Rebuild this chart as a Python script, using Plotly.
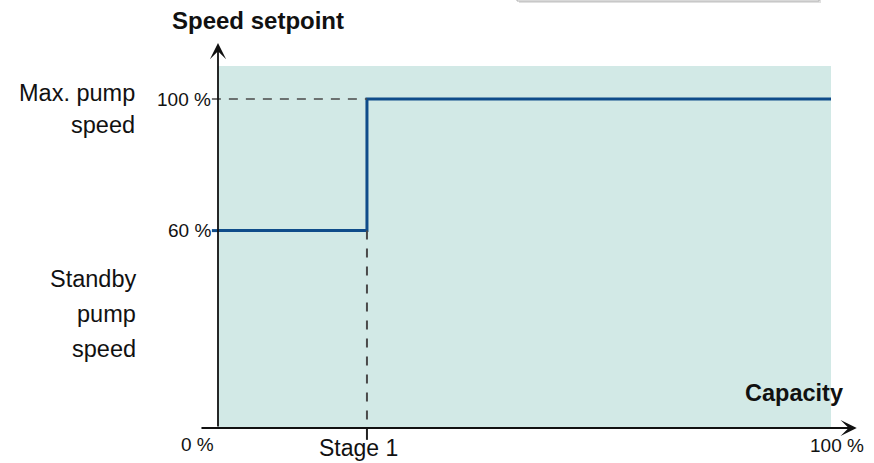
import plotly.graph_objects as go

# ---- data ----
capacity_pct = [0, 24.3, 100]          # capacity breakpoints (%)
speed_pct = [60, 100, 100]             # speed setpoint at each breakpoint (%)
stage_capacity = 24.3                  # Stage 1 position on capacity axis
standby_speed = 60
max_speed = 100
shade_top = 110
y_tick_labels = ["100 %", "60 %"]
x_tick_labels = ["0 %", "Stage 1", "100 %"]

W, H = 874, 463
FONT = "Liberation Sans, Arial, sans-serif"
LINE_BLUE = "#0f4c8a"
SHADE = "#d2e9e6"
DASH_COL = "#4a4a4a"

def px(x):
    return x / W

def py(y):
    return 1 - y / H

fig = go.Figure()

# step line
fig.add_trace(go.Scatter(
    x=capacity_pct, y=speed_pct, mode="lines", line_shape="hv",
    line=dict(color=LINE_BLUE, width=3), hoverinfo="skip", showlegend=False,
))

shapes = []
# shaded operating region
shapes.append(dict(type="rect", xref="x", yref="y", x0=0, x1=100, y0=0, y1=shade_top,
                   fillcolor=SHADE, line=dict(width=0), layer="below"))
# dashed reference at max speed
shapes.append(dict(type="line", xref="x", yref="y", x0=-1, x1=stage_capacity,
                   y0=max_speed, y1=max_speed,
                   line=dict(color=DASH_COL, width=1.5, dash="9px,8px")))
# dashed stage line
shapes.append(dict(type="line", xref="x", yref="y", x0=stage_capacity, x1=stage_capacity,
                   y0=standby_speed, y1=0,
                   line=dict(color=DASH_COL, width=2, dash="9px,9px")))
# stage tick below axis
shapes.append(dict(type="line", xref="x", yref="y", x0=stage_capacity, x1=stage_capacity,
                   y0=0, y1=-3.6, line=dict(color="#222", width=2)))
# tick at standby speed
shapes.append(dict(type="line", xref="x", yref="y", x0=-1, x1=0,
                   y0=standby_speed, y1=standby_speed, line=dict(color=LINE_BLUE, width=3)))
# partial box at top right (shadowed frame)
shapes.append(dict(type="rect", xref="paper", yref="paper", x0=px(519), x1=px(821),
                   y0=py(3), y1=py(-20), fillcolor="rgba(0,0,0,0.12)", line=dict(width=0)))
shapes.append(dict(type="rect", xref="paper", yref="paper", x0=px(517), x1=px(819),
                   y0=py(1), y1=py(-20), fillcolor="white",
                   line=dict(color="#b0b0b0", width=1)))

annotations = []
# y axis with arrow
annotations.append(dict(xref="x", yref="y", axref="x", ayref="y",
                        x=0, y=117, ax=0, ay=0, text="", showarrow=True,
                        arrowhead=3, arrowsize=1.5, arrowwidth=1.8, arrowcolor="#111"))
# x axis with arrow
annotations.append(dict(xref="x", yref="y", axref="x", ayref="y",
                        x=104.2, y=0, ax=-2.94, ay=0, text="", showarrow=True,
                        arrowhead=3, arrowsize=1.5, arrowwidth=1.8, arrowcolor="#111"))

def txt(t, x, y, size, xanchor="center", bold=False):
    annotations.append(dict(xref="paper", yref="paper", x=px(x), y=py(y), text=t,
                            showarrow=False, xanchor=xanchor, yanchor="middle",
                            font=dict(family=FONT, size=size, color="#111",
                                      weight="bold" if bold else "normal")))

txt("Speed setpoint", 258, 20, 24, bold=True)
txt("Capacity", 794, 393, 23.5, bold=True)
txt("Max. pump", 137, 93, 23.5, xanchor="right")
txt("speed", 137, 125, 23.5, xanchor="right")
txt("Standby", 138, 279, 23.5, xanchor="right")
txt("pump", 138, 314, 23.5, xanchor="right")
txt("speed", 138, 349, 23.5, xanchor="right")
txt(y_tick_labels[0], 213, 99, 19, xanchor="right")
txt(y_tick_labels[1], 213, 231, 19, xanchor="right")
txt(x_tick_labels[0], 197, 444, 19)
txt(x_tick_labels[1], 358, 448, 23)
txt(x_tick_labels[2], 837, 445, 19)

# axis ranges so the whole canvas maps to data space (0% capacity at px 218, 100% at px 831;
# 0% speed at px 428, 100% at px 99)
sx = (831 - 218) / 100.0
sy = (428 - 99) / 100.0
xr = [(0 - 218) / sx, (W - 218) / sx]
yr = [(428 - H) / sy, (428 - 0) / sy]

fig.update_layout(
    width=W, height=H,
    margin=dict(l=0, r=0, t=0, b=0),
    paper_bgcolor="white", plot_bgcolor="white",
    xaxis=dict(range=xr, visible=False, fixedrange=True),
    yaxis=dict(range=yr, visible=False, fixedrange=True),
    shapes=shapes, annotations=annotations,
    showlegend=False,
)

fig.write_html("out.html", config={"displayModeBar": False},
               post_script="document.body.style.margin='0';document.body.style.overflow='hidden';")
